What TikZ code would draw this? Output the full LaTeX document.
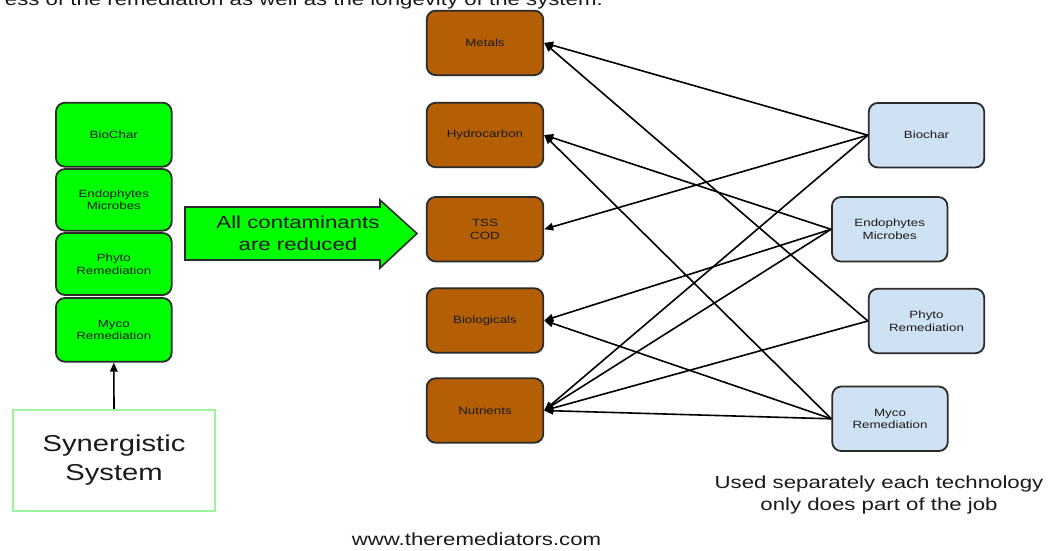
\documentclass[tikz,border=0pt]{standalone}
\usepackage{fontspec}
\setmainfont{Liberation Sans}[FakeStretch=1.27]
\usetikzlibrary{arrows.meta}
\definecolor{brownbox}{HTML}{B45F06}
\definecolor{bluebox}{HTML}{CFE2F3}
\definecolor{greenbox}{HTML}{00FF00}
\definecolor{synborder}{HTML}{9CF59C}
\definecolor{boxline}{HTML}{2B2B2B}
\definecolor{txt}{HTML}{1A1A1A}
\tikzset{
  base/.style={draw=boxline, line width=1.8pt, rounded corners=9pt, align=center, inner sep=0pt,
    font=\fontsize{10.5}{12.5}\selectfont, text=txt},
  contam/.style={base, fill=brownbox, minimum width=116.6pt, minimum height=64.5pt},
  tech/.style={base, fill=bluebox, minimum width=115.5pt, minimum height=64.5pt},
  stack/.style={base, fill=greenbox, minimum width=115.7pt},
  link/.style={draw=black, line width=1.6pt, -{Triangle[length=9pt,width=7.5pt]}},
  bigtext/.style={font=\fontsize{17.5}{22}\selectfont, text=txt, align=center},
}
\begin{document}
\begin{tikzpicture}[x=1pt,y=-1pt]
\useasboundingbox (0,0) rectangle (1049,550);
\clip (0,0) rectangle (1049,550);
\fill[white] (0,0) rectangle (1049,550);

% clipped heading text
\node[bigtext, anchor=base east, inner sep=0pt] (head) at (603,5) {ess of the remediation as well as the longevity of the system.};

% contaminant boxes
\node[contam] (metals) at (485,42.9) {Metals};
\node[contam] (hydro) at (485,135) {Hydrocarbon};
\node[contam] (tss) at (485,229.2) {TSS\\COD};
\node[contam] (bio) at (485,320.5) {Biologicals};
\node[contam] (nutr) at (485,410.5) {Nutrients};

% technology boxes
\node[tech] (biochar) at (926.5,135.2) {Biochar};
\node[tech] (endo) at (889.7,229.3) {Endophytes\\Microbes};
\node[tech] (phyto) at (926.5,321) {Phyto\\Remediation};
\node[tech] (myco) at (890,418.8) {Myco\\Remediation};

% green stack
\node[stack, minimum height=64pt] (sbiochar) at (113.8,134.7) {BioChar};
\node[stack, minimum height=61.7pt] (sendo) at (113.8,199.85) {Endophytes\\Microbes};
\node[stack, minimum height=62pt] (sphyto) at (113.8,264) {Phyto\\Remediation};
\node[stack, minimum height=63.7pt] (smyco) at (113.8,329.85) {Myco\\Remediation};

% synergistic system
\node[draw=synborder, line width=2.2pt, minimum width=202pt, minimum height=101pt, inner sep=0pt,
  font=\fontsize{23}{29}\selectfont, text=txt, align=center] (syn) at (114,460.5) {Synergistic\\System};
\draw[link] (syn.north) -- (smyco.south);

% big arrow
\draw[fill=greenbox, draw=boxline, line width=1.6pt, line join=miter]
  (185,207) -- (380,207) -- (380,200) -- (417,233.5) -- (380,268) -- (380,260) -- (185,260) -- cycle;
\node[bigtext] (allred) at (298,233.5) {All contaminants\\are reduced};

% links
\draw[link] (biochar.west) -- (metals.east);
\draw[link] (biochar.west) -- (tss.east);
\draw[link] (biochar.west) -- (nutr.east);
\draw[link] (endo.west) -- (hydro.east);
\draw[link] (endo.west) -- (bio.east);
\draw[link] (endo.west) -- (nutr.east);
\draw[link] (phyto.west) -- (metals.east);
\draw[link] (phyto.west) -- (nutr.east);
\draw[link] (myco.west) -- (hydro.east);
\draw[link] (myco.west) -- (bio.east);
\draw[link] (myco.west) -- (nutr.east);

% captions
\node[bigtext, anchor=base] (used) at (879,488) {Used separately each technology};
\node[bigtext, anchor=base] (used2) at (879,510) {only does part of the job};
\node[bigtext, anchor=base] (www) at (476.5,545) {www.theremediators.com};
\end{tikzpicture}
\end{document}
